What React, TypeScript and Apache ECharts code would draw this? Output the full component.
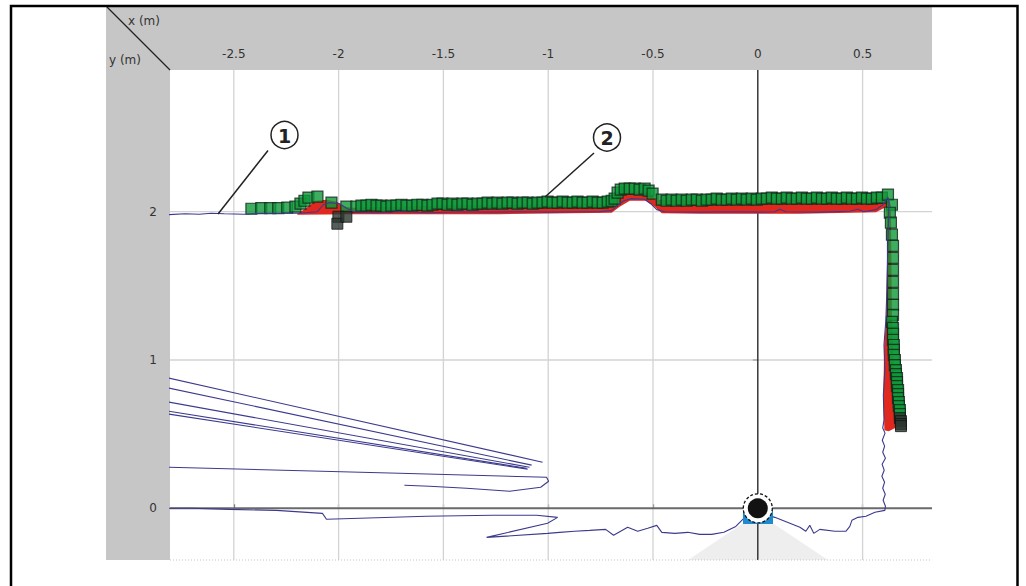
import React, { useEffect, useRef } from "react";
import * as echarts from "echarts";

// Axis ticks and ranges (metres)
const xTicks = [-2.5, -2, -1.5, -1, -0.5, 0, 0.5];
const yTicks = [0, 1, 2];
const X_MIN = -2.8044;
const X_MAX = 0.8311;
const Y_MIN = -0.3486;
const Y_MAX = 2.9555;

// Measured contour (blue line)
const contour: number[][] = [
  [-2.81, 1.98], [-2.732, 1.986], [-2.665, 1.983], [-2.608, 1.99], [-2.545, 1.986], [-2.45, 1.983],
  [-2.369, 1.99], [-2.187, 1.99], [-2.101, 2.0], [-2.073, 2.047], [-2.044, 2.061], [-1.996, 2.054],
  [-1.958, 2.02], [-1.92, 1.997], [-1.805, 1.993], [-1.71, 2.0], [-1.566, 1.993], [-1.423, 2.0],
  [-1.28, 1.997], [-1.137, 2.0], [-0.993, 1.997], [-0.85, 2.0], [-0.755, 2.0], [-0.697, 2.007],
  [-0.669, 2.041], [-0.64, 2.074], [-0.602, 2.088], [-0.54, 2.084], [-0.511, 2.054], [-0.482, 2.014],
  [-0.444, 2.0], [-0.277, 1.997], [-0.134, 2.0], [0.01, 1.997], [0.081, 2.0], [0.105, 2.017],
  [0.134, 2.0], [0.296, 1.997], [0.439, 2.003], [0.478, 2.017], [0.506, 2.0], [0.564, 2.014],
  [0.597, 2.047], [0.621, 2.095], [0.626, 2.068], [0.621, 1.811], [0.616, 1.473], [0.611, 1.27],
  [0.602, 1.101], [0.606, 0.932], [0.599, 0.764], [0.602, 0.595], [0.596, 0.541], [0.607, 0.507],
  [0.594, 0.459], [0.605, 0.419], [0.596, 0.378], [0.609, 0.338], [0.593, 0.297], [0.603, 0.257],
  [0.592, 0.216], [0.605, 0.176], [0.596, 0.135], [0.608, 0.095], [0.598, 0.054], [0.609, 0.014],
  [0.606, -0.014], [0.559, -0.027], [0.516, -0.054], [0.478, -0.061], [0.449, -0.081], [0.439, -0.122],
  [0.42, -0.155], [0.368, -0.155], [0.296, -0.142], [0.267, -0.169], [0.248, -0.115], [0.229, -0.155],
  [0.201, -0.128], [0.153, -0.101], [0.081, -0.061], [0.0, -0.027], [-0.062, -0.061], [-0.105, -0.122],
  [-0.162, -0.162], [-0.22, -0.176], [-0.277, -0.176], [-0.334, -0.162], [-0.396, -0.169], [-0.458, -0.162],
  [-0.482, -0.115], [-0.525, -0.135], [-0.573, -0.155], [-0.621, -0.128], [-0.688, -0.182], [-0.726, -0.142],
  [-0.802, -0.149], [-0.874, -0.155], [-0.946, -0.162], [-1.003, -0.169], [-1.294, -0.196], [-1.003, -0.101],
  [-0.955, -0.061], [-1.055, -0.047], [-1.266, -0.047], [-1.581, -0.054], [-2.058, -0.074], [-2.077, -0.034],
  [-2.297, -0.014], [-2.521, -0.007], [-2.703, 0.0], [-2.81, 0.0],
];

// Reflection beams in the lower left
const beam1 = [[-2.81, 0.878], [-1.027, 0.311]];
const beam2 = [[-2.81, 0.811], [-1.079, 0.291]];
const beam3 = [[-2.81, 0.716], [-1.089, 0.277]];
const beam4 = [[-2.81, 0.655], [-1.103, 0.27]];
const beam5 = [[-2.81, 0.635], [-1.098, 0.264]];
const beamLoop = [
  [-2.81, 0.277], [-1.71, 0.236], [-1.008, 0.209], [-0.998, 0.182], [-1.036, 0.142],
  [-1.184, 0.115], [-1.39, 0.135], [-1.566, 0.149], [-1.686, 0.155],
];

// Red deviation area outline
const redOutline: number[][] = [
  [-2.197, 1.986], [-2.159, 2.02], [-2.111, 2.074], [-2.058, 2.081], [-2.011, 2.068], [-1.968, 2.034],
  [-1.939, 2.027], [-1.471, 2.041], [-0.993, 2.047], [-0.697, 2.054], [-0.669, 2.108], [-0.63, 2.135],
  [-0.516, 2.135], [-0.487, 2.081], [-0.038, 2.074], [0.583, 2.088], [0.621, 2.108],
  [0.635, 2.041], [0.64, 1.27], [0.65, 0.865], [0.655, 0.541],
  [0.625, 0.52], [0.604, 0.527], [0.599, 0.764], [0.603, 1.101], [0.612, 1.27], [0.618, 1.743],
  [0.613, 2.034], [0.564, 1.997], [0.201, 1.986], [-0.277, 1.986], [-0.458, 1.99], [-0.492, 2.034],
  [-0.535, 2.074], [-0.611, 2.074], [-0.659, 2.034], [-0.697, 1.993], [-1.232, 1.983], [-1.71, 1.983],
  [-1.939, 1.983], [-2.197, 1.98],
];

// Green detected points (wall + right side)
const greenPoints: number[][] = [
  [-2.416, 2.02], [-2.369, 2.024], [-2.326, 2.024], [-2.288, 2.024], [-2.245, 2.027], [-2.206, 2.034],
  [-2.182, 2.054], [-2.163, 2.074], [-2.144, 2.095], [-2.101, 2.101], [-2.034, 2.061], [-1.963, 2.034],
  [-1.915, 2.034],
  [-1.891, 2.041], [-1.867, 2.041], [-1.843, 2.047], [-1.819, 2.041], [-1.796, 2.041], [-1.772, 2.034],
  [-1.748, 2.041], [-1.724, 2.041], [-1.7, 2.047], [-1.676, 2.041], [-1.648, 2.041], [-1.624, 2.047],
  [-1.6, 2.047], [-1.576, 2.041], [-1.552, 2.047], [-1.528, 2.054], [-1.504, 2.054], [-1.48, 2.047],
  [-1.457, 2.054], [-1.433, 2.047], [-1.409, 2.054], [-1.385, 2.054], [-1.361, 2.047], [-1.337, 2.054],
  [-1.313, 2.054], [-1.289, 2.061], [-1.266, 2.054], [-1.242, 2.061], [-1.218, 2.054], [-1.194, 2.061],
  [-1.17, 2.061], [-1.146, 2.054], [-1.122, 2.061], [-1.098, 2.061], [-1.074, 2.054], [-1.051, 2.061],
  [-1.027, 2.061], [-1.003, 2.068], [-0.979, 2.061], [-0.955, 2.061], [-0.931, 2.068], [-0.907, 2.061],
  [-0.883, 2.061], [-0.86, 2.068], [-0.836, 2.061], [-0.812, 2.061], [-0.788, 2.068], [-0.764, 2.061],
  [-0.74, 2.061], [-0.716, 2.068], [-0.697, 2.074],
  [-0.683, 2.088], [-0.669, 2.128], [-0.654, 2.149], [-0.635, 2.155], [-0.611, 2.155], [-0.587, 2.155],
  [-0.564, 2.149], [-0.54, 2.155], [-0.521, 2.142], [-0.502, 2.122],
  [-0.458, 2.081], [-0.435, 2.074], [-0.411, 2.081], [-0.387, 2.074], [-0.363, 2.081], [-0.339, 2.074],
  [-0.315, 2.081], [-0.291, 2.081], [-0.267, 2.074], [-0.244, 2.081], [-0.22, 2.081], [-0.196, 2.088],
  [-0.172, 2.081], [-0.148, 2.081], [-0.124, 2.088], [-0.1, 2.081], [-0.076, 2.088], [-0.053, 2.081],
  [-0.029, 2.088], [-0.005, 2.081], [0.019, 2.088], [0.043, 2.088], [0.067, 2.095], [0.091, 2.088],
  [0.115, 2.088], [0.138, 2.095], [0.162, 2.088], [0.186, 2.088], [0.21, 2.095], [0.234, 2.088],
  [0.258, 2.088], [0.282, 2.095], [0.306, 2.088], [0.33, 2.088], [0.353, 2.095], [0.377, 2.088],
  [0.401, 2.088], [0.425, 2.095], [0.449, 2.088], [0.473, 2.088], [0.497, 2.095], [0.521, 2.088],
  [0.544, 2.088], [0.568, 2.095], [0.592, 2.095], [0.621, 2.115],
  [0.64, 2.047], [0.63, 1.993], [0.635, 1.926], [0.64, 1.845], [0.645, 1.77], [0.645, 1.689],
  [0.645, 1.608], [0.645, 1.527], [0.645, 1.446], [0.645, 1.372], [0.645, 1.304], [0.64, 1.257],
  [0.645, 1.216], [0.645, 1.176], [0.645, 1.135], [0.649, 1.101], [0.649, 1.068], [0.649, 1.034],
  [0.654, 1.0], [0.654, 0.966], [0.659, 0.932], [0.659, 0.905], [0.664, 0.878], [0.664, 0.851],
  [0.664, 0.824], [0.669, 0.797], [0.669, 0.77], [0.669, 0.743], [0.673, 0.716], [0.673, 0.689],
  [0.678, 0.662], [0.678, 0.635],
];

// Dark (uncertain) points
const darkPoints: number[][] = [
  [-2.001, 1.966], [-2.006, 1.919], [-1.963, 1.966],
  [0.678, 0.608], [0.683, 0.588], [0.683, 0.568], [0.683, 0.554],
];

const FONT = "DejaVu Sans, Verdana, sans-serif";

function lineSeries(data: number[][], color: string, width: number, z: number) {
  return {
    type: "line",
    data,
    symbol: "none",
    showSymbol: false,
    silent: true,
    clip: true,
    z,
    lineStyle: { color, width },
  };
}

export default function App() {
  const ref = useRef<HTMLDivElement>(null);

  useEffect(() => {
    if (!ref.current) return;
    const chart = echarts.init(ref.current, undefined, { renderer: "svg" });

    const gridX = xTicks
      .filter((v) => v !== 0)
      .map((v) => lineSeries([[v, Y_MIN], [v, Y_MAX]], "#d3d3d3", 1.3, 1));
    const gridY = yTicks
      .filter((v) => v !== 0)
      .map((v) => lineSeries([[X_MIN, v], [X_MAX, v]], "#d3d3d3", 1.3, 1));
    const zeroX = lineSeries([[0, Y_MIN], [0, Y_MAX]], "#2a2a2a", 1.4, 1);
    const zeroY = lineSeries([[X_MIN, 0], [X_MAX, 0]], "#6a6a6a", 2, 1);

    const beams = [beam1, beam2, beam3, beam4, beam5, beamLoop].map((b) =>
      lineSeries(b, "#3b3a8e", 1.1, 4)
    );

    const option: any = {
      animation: false,
      grid: { left: 170, top: 70, width: 762, height: 490, containLabel: false },
      xAxis: {
        type: "value",
        position: "top",
        min: X_MIN,
        max: X_MAX,
        axisLine: { show: false },
        splitLine: { show: false },
        axisTick: {
          show: true,
          customValues: xTicks,
          length: 4,
          inside: false,
          lineStyle: { color: "#333", width: 1.2 },
        },
        axisLabel: {
          customValues: xTicks,
          margin: 10,
          color: "#333",
          fontSize: 12,
          fontFamily: FONT,
        },
      },
      yAxis: {
        type: "value",
        min: Y_MIN,
        max: Y_MAX,
        axisLine: { show: false },
        splitLine: { show: false },
        axisTick: {
          show: true,
          customValues: yTicks,
          length: 5,
          inside: false,
          lineStyle: { color: "#333", width: 1.5 },
        },
        axisLabel: {
          customValues: yTicks,
          margin: 13,
          color: "#333",
          fontSize: 12,
          fontFamily: FONT,
        },
      },
      series: [
        ...gridX,
        ...gridY,
        zeroX,
        zeroY,
        {
          type: "custom",
          silent: true,
          z: 2,
          clip: true,
          data: [[0, 0]],
          encode: { x: 0, y: 1 },
          renderItem: (_params: any, api: any) => {
            const pts = redOutline.map((p) => api.coord(p));
            return {
              type: "polygon",
              shape: { points: pts },
              style: { fill: "#e0281e" },
            };
          },
        },
        {
          type: "scatter",
          data: greenPoints,
          symbol: "rect",
          symbolSize: 11,
          silent: true,
          z: 3,
          itemStyle: { color: "#0e9838", borderColor: "#112419", borderWidth: 1.2 },
        },
        {
          type: "scatter",
          data: darkPoints,
          symbol: "rect",
          symbolSize: 11,
          silent: true,
          z: 3,
          itemStyle: { color: "#2c3630", borderColor: "#121713", borderWidth: 1 },
        },
        lineSeries(contour, "#3b3a8e", 1.1, 4),
        ...beams,
      ],
      graphic: [
        // grey frame bands
        { type: "rect", z: -10, silent: true, shape: { x: 106, y: 7, width: 826, height: 63 }, style: { fill: "#c6c6c6" } },
        { type: "rect", z: -10, silent: true, shape: { x: 106, y: 7, width: 64, height: 553 }, style: { fill: "#c6c6c6" } },
        { type: "line", z: 5, silent: true, shape: { x1: 107, y1: 7, x2: 170, y2: 70 }, style: { stroke: "#222", lineWidth: 1.2 } },
        { type: "text", z: 5, silent: true, x: 128, y: 21, style: { text: "x (m)", fill: "#333", font: `12px ${FONT}`, verticalAlign: "middle" } },
        { type: "text", z: 5, silent: true, x: 109, y: 60, style: { text: "y (m)", fill: "#333", font: `12px ${FONT}`, verticalAlign: "middle" } },
        // outer frame
        { type: "rect", z: 20, silent: true, shape: { x: 11, y: 6, width: 1006.5, height: 640 }, style: { fill: "none", stroke: "#000", lineWidth: 2.5 } },
        // field of view
        { type: "polygon", z: -5, silent: true, shape: { points: [[745, 522], [771, 522], [828, 560], [688, 560]] }, style: { fill: "#eeeeee" } },
        // bottom dotted border
        { type: "line", z: 5, silent: true, shape: { x1: 170, y1: 560, x2: 932, y2: 560 }, style: { stroke: "#c4c4c4", lineWidth: 1, lineDash: [1, 2] } },
        // sensor
        { type: "rect", z: 50, silent: true, shape: { x: 743, y: 510, width: 30, height: 14 }, style: { fill: "#1e8bd0" } },
        { type: "circle", z: 51, silent: true, shape: { cx: 757.8, cy: 508.3, r: 14.5 }, style: { fill: "#fff", stroke: "#111", lineWidth: 1.3, lineDash: [3, 2] } },
        { type: "circle", z: 52, silent: true, shape: { cx: 757.8, cy: 508.3, r: 10 }, style: { fill: "#121212" } },
        // annotation 1
        { type: "line", z: 30, silent: true, shape: { x1: 268, y1: 150.5, x2: 218, y2: 214 }, style: { stroke: "#222", lineWidth: 1.5 } },
        { type: "circle", z: 30, silent: true, shape: { cx: 284.5, cy: 135, r: 13.5 }, style: { fill: "#fff", stroke: "#222", lineWidth: 1.5 } },
        { type: "text", z: 31, silent: true, x: 284.5, y: 135.5, style: { text: "1", fill: "#222", font: `bold 19px ${FONT}`, align: "center", verticalAlign: "middle" } },
        // annotation 2
        { type: "line", z: 30, silent: true, shape: { x1: 594, y1: 153, x2: 545, y2: 197 }, style: { stroke: "#222", lineWidth: 1.5 } },
        { type: "circle", z: 30, silent: true, shape: { cx: 607, cy: 137.5, r: 13.5 }, style: { fill: "#fff", stroke: "#222", lineWidth: 1.5 } },
        { type: "text", z: 31, silent: true, x: 607, y: 138, style: { text: "2", fill: "#222", font: `bold 19px ${FONT}`, align: "center", verticalAlign: "middle" } },
      ],
    };

    chart.setOption(option);
    return () => {
      chart.dispose();
    };
  }, []);

  return (
    <div
      ref={ref}
      style={{ position: "absolute", left: 0, top: 0, width: 1026, height: 586, background: "#fff" }}
    />
  );
}
